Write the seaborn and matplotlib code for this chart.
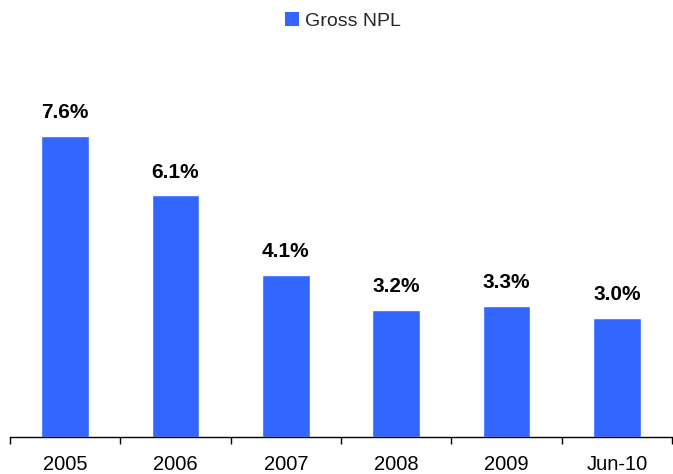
import matplotlib
matplotlib.use("Agg")
import matplotlib.pyplot as plt
import seaborn as sns
import pandas as pd
from matplotlib.patches import Patch

categories = ["2005", "2006", "2007", "2008", "2009", "Jun-10"]
gross_npl = [7.6, 6.1, 4.1, 3.2, 3.3, 3.0]
series_name = "Gross NPL"

sns.set_theme(style="white")
plt.rcParams['font.family'] = ['Liberation Sans', 'DejaVu Sans']

df = pd.DataFrame({"cat": categories, "val": gross_npl})
color = "#3366FF"

fig = plt.figure(figsize=(6.73, 4.74), dpi=100)
ax = fig.add_axes([10/673, 1 - 437/474, 662/673, 377/474])
sns.barplot(data=df, x="cat", y="val", color=color, width=0.43, ax=ax, saturation=1)

ax.set_ylim(0, 377/39.6)
ax.set_xlim(-0.5, len(categories) - 0.5)
for s in ["top", "right", "left"]:
    ax.spines[s].set_visible(False)
ax.spines["bottom"].set_color("black")
ax.spines["bottom"].set_linewidth(1)
ax.set_yticks([])
ax.set_xlabel("")
ax.set_ylabel("")
ax.set_xticks(range(len(categories)))
ax.set_xticklabels(categories, fontsize=14.5)
ax.tick_params(axis="x", which="major", length=0, pad=13, colors="black")
ax.set_xticks([i - 0.5 for i in range(len(categories) + 1)], minor=True)
ax.tick_params(axis="x", which="minor", length=5, width=1, color="black", direction="out")
ax.xaxis.set_ticks_position("bottom")

for i, v in enumerate(gross_npl):
    ax.annotate(f"{v:.1f}%", (i, v), xytext=(0, 10), textcoords="offset points",
                ha="center", va="bottom", fontsize=15, fontweight="bold", color="black")

handle = Patch(facecolor=color, edgecolor="none")
fig.legend([handle], [series_name], loc="center", bbox_to_anchor=(343/673, 1 - 21/474),
           frameon=False, fontsize=14, handlelength=0.75, handleheight=0.75, handletextpad=0.3)

fig.savefig("out.png", dpi=100)
